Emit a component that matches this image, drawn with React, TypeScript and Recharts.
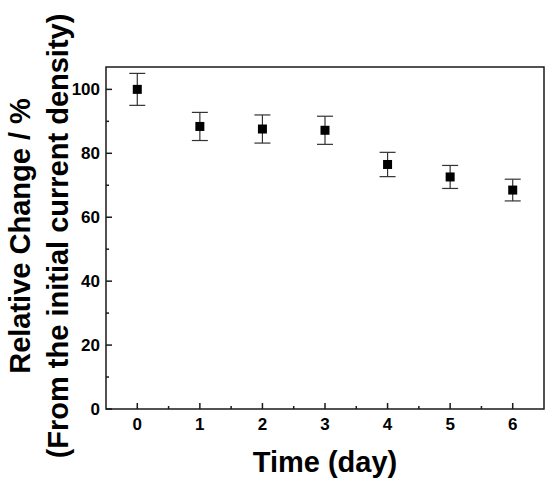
import React from 'react';
import { ScatterChart, Scatter, XAxis, YAxis, ErrorBar, ReferenceArea, Label } from 'recharts';

// measured values (relative change, %) per day
const days = [0, 1, 2, 3, 4, 5, 6];
const relChange = [100, 88.4, 87.6, 87.2, 76.5, 72.6, 68.5];
const errors = [5, 4.4, 4.4, 4.4, 3.8, 3.6, 3.4];

const xMajor = [0, 1, 2, 3, 4, 5, 6];
const xMinor = [0.5, 1.5, 2.5, 3.5, 4.5, 5.5];
const yMajor = [0, 20, 40, 60, 80, 100];
const yMinor = [10, 30, 50, 70, 90];

const data = days.map((d, i) => ({ day: d, value: relChange[i], err: errors[i] }));

const FONT = '"Liberation Sans", Arial, Helvetica, sans-serif';
const INK = '#1a1a1a';

const XTick = (props: any) => {
  const { x, y, payload } = props;
  const major = xMajor.includes(payload.value);
  return (
    <g>
      <line x1={x} x2={x} y1={y} y2={y - (major ? 6 : 3)} stroke={INK} strokeWidth={1.5} />
      {major && (
        <text x={x} y={y + 21} textAnchor="middle" fontSize={17} fontWeight="bold" fontFamily={FONT} fill="#000">
          {payload.value}
        </text>
      )}
    </g>
  );
};

const YTick = (props: any) => {
  const { x, y, payload } = props;
  const major = yMajor.includes(payload.value);
  return (
    <g>
      <line x1={x} x2={x + (major ? 6 : 3)} y1={y} y2={y} stroke={INK} strokeWidth={1.5} />
      {major && (
        <text x={x - 6} y={y + 6} textAnchor="end" fontSize={17} fontWeight="bold" fontFamily={FONT} fill="#000">
          {payload.value}
        </text>
      )}
    </g>
  );
};

const YTitle = () => (
  <g fontFamily={FONT} fontWeight="bold" fontSize={29} fill="#000">
    <text x={30} y={236} textAnchor="middle" transform="rotate(-90, 30, 236)">
      Relative Change / %
    </text>
    <text x={68} y={236} textAnchor="middle" transform="rotate(-90, 68, 236)">
      (From the initial current density)
    </text>
  </g>
);

const XTitle = () => (
  <text x={325} y={472} textAnchor="middle" fontFamily={FONT} fontWeight="bold" fontSize={29} fill="#000">
    Time (day)
  </text>
);

const Square = (props: any) => {
  const { cx, cy } = props;
  return <rect x={cx - 4.5} y={cy - 4.5} width={9} height={9} fill="#000" />;
};

export default function App() {
  return (
    <div style={{ position: 'absolute', left: 0, top: 0, background: '#fff' }}>
      <ScatterChart width={550} height={486} margin={{ top: 67, right: 6, bottom: 0, left: 0 }}>
        <XAxis
          type="number"
          dataKey="day"
          domain={[-0.5, 6.5]}
          ticks={[...xMajor, ...xMinor]}
          interval={0}
          height={77}
          tickSize={0}
          tickMargin={0}
          tickLine={false}
          axisLine={false}
          tick={<XTick />}
        >
          <Label content={<XTitle />} />
        </XAxis>
        <YAxis
          type="number"
          dataKey="value"
          domain={[0, 107]}
          ticks={[...yMajor, ...yMinor]}
          interval={0}
          width={106}
          tickSize={0}
          tickMargin={0}
          tickLine={false}
          axisLine={false}
          tick={<YTick />}
        >
          <Label content={<YTitle />} />
        </YAxis>
        <ReferenceArea x1={-0.5} x2={6.5} y1={0} y2={107} fill="none" stroke={INK} strokeWidth={1.5} />
        <Scatter data={data} shape={<Square />} isAnimationActive={false}>
          <ErrorBar dataKey="err" direction="y" width={8} stroke="#333" strokeWidth={1.2} isAnimationActive={false} />
        </Scatter>
      </ScatterChart>
    </div>
  );
}
